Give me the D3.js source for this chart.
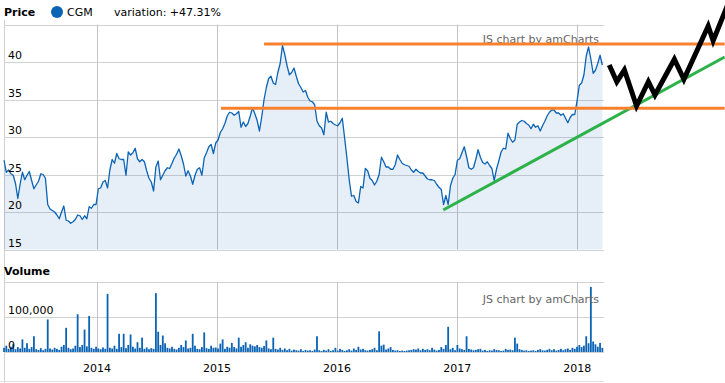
<!DOCTYPE html>
<html><head><meta charset="utf-8">
<script src="https://cdn.jsdelivr.net/npm/d3@7"></script>
<style>body{margin:0;background:#fff}svg{display:block;font-family:"DejaVu Sans",Verdana,sans-serif}</style>
</head><body><svg id="c" width="725" height="383"></svg>
<script>
// ---- data (weekly) ----
const startDate = "2013-03-24";
const priceValues = [
26.9,25.3,25.6,25.1,24.9,23.8,21.8,23.7,25.3,24.3,
24.9,25.4,24.2,23.1,23.6,24.1,25.1,25.0,24.5,21.0,
20.4,20.2,20.0,19.6,19.1,20.0,20.8,18.9,18.8,18.5,
18.7,19.0,19.6,19.5,19.0,19.5,19.1,20.7,20.5,21.0,
21.0,23.1,23.2,24.0,24.2,23.2,25.6,27.0,26.5,27.8,
27.1,27.0,27.0,24.9,28.0,27.6,27.9,28.5,27.1,26.7,
27.0,26.7,25.5,24.5,24.0,22.8,26.0,26.8,24.3,24.9,
25.5,25.9,25.8,26.5,27.2,27.7,28.4,27.5,26.4,24.8,
25.5,24.8,23.7,24.9,25.7,25.9,24.9,27.2,27.9,28.7,
29.0,27.8,29.2,29.6,30.6,31.1,31.8,32.8,33.3,33.2,
32.9,33.1,33.4,31.3,32.0,31.4,31.8,32.8,33.9,33.1,
32.2,30.8,32.7,35.0,36.6,37.8,38.1,37.2,37.0,38.6,
39.8,42.2,41.0,39.5,38.3,38.6,39.2,38.1,37.1,36.6,
36.0,36.2,35.3,34.8,34.7,34.3,32.1,31.5,31.2,30.3,
33.3,32.0,32.1,31.8,31.6,31.5,31.9,32.5,29.9,27.2,
24.3,22.1,22.2,21.4,21.2,23.4,23.2,25.8,25.5,24.5,
24.2,23.6,24.1,25.0,27.3,26.7,26.0,26.0,25.7,25.7,
26.3,27.6,27.0,26.5,26.3,26.2,26.1,25.6,25.3,25.7,
25.4,25.2,25.2,24.8,24.4,24.3,24.3,24.2,23.7,23.3,
23.0,21.0,22.2,21.0,23.5,24.5,25.0,26.9,27.1,27.9,
28.7,27.4,25.9,25.7,25.9,27.0,28.3,27.3,26.6,26.4,
26.7,26.2,25.8,24.2,25.7,26.8,28.0,28.5,28.4,30.5,
29.8,29.3,29.6,31.7,32.0,32.2,32.1,31.8,31.6,31.1,
31.7,31.3,31.5,30.8,31.5,32.1,32.8,33.3,33.6,33.6,
33.2,33.2,32.9,33.1,32.5,31.9,32.6,33.0,33.0,34.8,
36.9,37.2,38.3,40.8,42.0,40.4,38.5,38.9,39.8,40.9,39.6];
const volumeValues = [
12000,18000,9000,15000,22000,8000,14000,10000,36000,12000,
25000,9000,14000,45000,8000,6000,11000,5000,9000,93000,
10000,7000,12000,9000,6000,15000,20000,69000,12000,8000,
10000,18000,108000,14000,20000,64000,16000,103000,12000,9000,
15000,10000,8000,13000,9000,166000,12000,10000,18000,9000,
52000,14000,52000,11000,20000,50000,15000,10000,28000,12000,
41000,9000,13000,8000,11000,9000,168000,58000,20000,47000,
25000,12000,10000,15000,9000,7000,12000,20000,14000,33000,
10000,12000,52000,18000,9000,8000,14000,56000,11000,9000,
18000,12000,13000,10000,24000,36000,9000,15000,12000,26000,
14000,10000,41000,15000,20000,28000,12000,22000,18000,16000,
20000,14000,12000,17000,33000,10000,8000,41000,9000,7000,
12000,6000,10000,5000,9000,4000,7000,5000,4000,8000,
3000,6000,4000,5000,3000,7000,45000,5000,3000,6000,
4000,8000,3000,5000,12000,4000,9000,6000,3000,5000,
8000,4000,10000,6000,15000,7000,9000,5000,4000,6000,
8000,12000,5000,59000,18000,21000,7000,10000,14000,6000,
4000,5000,3000,4000,3000,4000,5000,6000,8000,7000,
10000,5000,9000,6000,8000,5000,12000,7000,4000,6000,
14000,9000,20000,72000,8000,12000,5000,20000,10000,8000,
6000,45000,9000,7000,5000,6000,8000,9000,4000,6000,
3000,5000,4000,8000,6000,5000,3000,4000,9000,6000,
7000,5000,41000,24000,8000,6000,4000,5000,3000,4000,
5000,3000,6000,8000,5000,4000,6000,9000,5000,8000,
4000,6000,9000,5000,8000,10000,6000,12000,9000,15000,
20000,14000,18000,45000,25000,186000,30000,22000,15000,26000,12000];
const priceTicks = [15, 20, 25, 30, 35, 40, 45];
const volumeTicks = [0, 100000, 200000];
const xDomain = ["2013-03-24", "2018-03-23"];
const seriesName = "CGM";
const variationText = "variation: +47.31%";
// annotations drawn over the chart
const levelLines = [
  {from: "2015-05-24", to: "2019-03-25", price: 42.4},
  {from: "2015-01-13", to: "2019-03-25", price: 33.85}
];
const trendLine = [["2016-11-19", 20.27], ["2019-03-25", 40.67]];
const projection = [
  ["2018-04-08", 39.6], ["2018-05-01", 37.37], ["2018-05-24", 38.93],
  ["2018-06-30", 34.13], ["2018-08-05", 37.37], ["2018-08-25", 35.6],
  ["2018-10-23", 40.36], ["2018-11-21", 37.69], ["2019-02-03", 44.8],
  ["2019-02-18", 42.84], ["2019-04-25", 50.0]
];

// ---- drawing ----
const parse = d3.timeParse("%Y-%m-%d");
const t0 = parse(startDate);
const data = priceValues.map((v, i) => ({date: d3.timeDay.offset(t0, 7 * i), v, vol: volumeValues[i]}));

const svg = d3.select("#c");
const L = 4, R = 604;
const x = d3.scaleTime().domain(xDomain.map(parse)).range([L, R]);
const yP = d3.scaleLinear().domain([15, 45]).range([249.5, 24.5]);
const yV = d3.scaleLinear().domain([0, 200000]).range([352, 282]);
const blue = "#0a63b5";
const grid = "#d2d2d2";
const fs = 11;

// horizontal grids
svg.append("g").selectAll("line").data(priceTicks).join("line")
  .attr("x1", L).attr("x2", R).attr("y1", d => Math.round(yP(d)) + 0.5).attr("y2", d => Math.round(yP(d)) + 0.5)
  .attr("stroke", grid);
svg.append("g").selectAll("line").data(volumeTicks).join("line")
  .attr("x1", L).attr("x2", R).attr("y1", d => Math.round(yV(d)) + 0.5).attr("y2", d => Math.round(yV(d)) + 0.5)
  .attr("stroke", grid);

// vertical year grids
const years = x.ticks(d3.timeYear.every(1));
const vg = svg.append("g");
years.forEach(d => {
  const xx = Math.round(x(d)) + 0.5;
  vg.append("line").attr("x1", xx).attr("x2", xx).attr("y1", yP(45)).attr("y2", yP(15)).attr("stroke", "#c4c4c4");
  vg.append("line").attr("x1", xx).attr("x2", xx).attr("y1", yV(200000)).attr("y2", yV(0)).attr("stroke", "#c4c4c4");
});
// left border and bottom line
svg.append("line").attr("x1", L + 0.5).attr("x2", L + 0.5).attr("y1", 20).attr("y2", 383).attr("stroke", "#cfcfcf");
svg.append("line").attr("x1", 0).attr("x2", R).attr("y1", 381.5).attr("y2", 381.5).attr("stroke", "#e2e2e2");

// price area + line
svg.append("path").datum(data)
  .attr("d", d3.area().x(d => x(d.date)).y0(yP(15)).y1(d => yP(d.v)))
  .attr("fill", blue).attr("fill-opacity", 0.1);
svg.append("path").datum(data)
  .attr("d", d3.line().x(d => x(d.date)).y(d => yP(d.v)))
  .attr("fill", "none").attr("stroke", blue).attr("stroke-width", 1.3).attr("stroke-linejoin", "round");

// volume bars
svg.append("g").selectAll("rect").data(data).join("rect")
  .attr("x", d => x(d.date) - 0.9).attr("width", 1.8)
  .attr("y", d => yV(d.vol)).attr("height", d => yV(0) - yV(d.vol))
  .attr("fill", blue);

// axis labels
svg.append("g").selectAll("text").data(priceTicks.filter(d => d < 45)).join("text")
  .attr("x", 8).attr("y", d => yP(d) - 3).attr("font-size", fs).attr("fill", "#000").text(d => d);
const vfmt = d3.format(",");
svg.append("g").selectAll("text").data(volumeTicks.filter(d => d < 200000)).join("text")
  .attr("x", 8).attr("y", d => yV(d) - 3).attr("font-size", fs).attr("fill", "#000").text(d => vfmt(d));
svg.append("g").selectAll("text").data(years).join("text")
  .attr("x", d => x(d)).attr("y", 372).attr("text-anchor", "middle").attr("font-size", fs).attr("fill", "#000")
  .text(d => d3.timeFormat("%Y")(d));

// titles / legend
svg.append("text").attr("x", 4).attr("y", 16).attr("font-size", fs).attr("font-weight", "bold").text("Price");
svg.append("circle").attr("cx", 57).attr("cy", 12).attr("r", 6).attr("fill", blue);
svg.append("text").attr("x", 67).attr("y", 16).attr("font-size", fs).text(seriesName);
svg.append("text").attr("x", 114).attr("y", 16).attr("font-size", fs).text(variationText);
svg.append("text").attr("x", 4).attr("y", 275).attr("font-size", fs).attr("font-weight", "bold").text("Volume");

// watermarks
[43, 303].forEach(yy => svg.append("text").attr("x", 599).attr("y", yy).attr("text-anchor", "end")
  .attr("font-size", fs).attr("fill", "#666").text("JS chart by amCharts"));

// annotations
svg.append("path").datum(trendLine)
  .attr("d", d3.line().x(d => x(parse(d[0]))).y(d => yP(d[1])))
  .attr("stroke", "#2db24a").attr("stroke-width", 3).attr("fill", "none");
svg.append("g").selectAll("line").data(levelLines).join("line")
  .attr("x1", d => x(parse(d.from))).attr("x2", d => x(parse(d.to)))
  .attr("y1", d => yP(d.price)).attr("y2", d => yP(d.price))
  .attr("stroke", "#f7812c").attr("stroke-width", 3);
svg.append("path").datum(projection)
  .attr("d", d3.line().x(d => x(parse(d[0]))).y(d => yP(d[1])))
  .attr("stroke", "#000").attr("stroke-width", 5).attr("fill", "none").attr("stroke-linejoin", "miter");
</script></body></html>
